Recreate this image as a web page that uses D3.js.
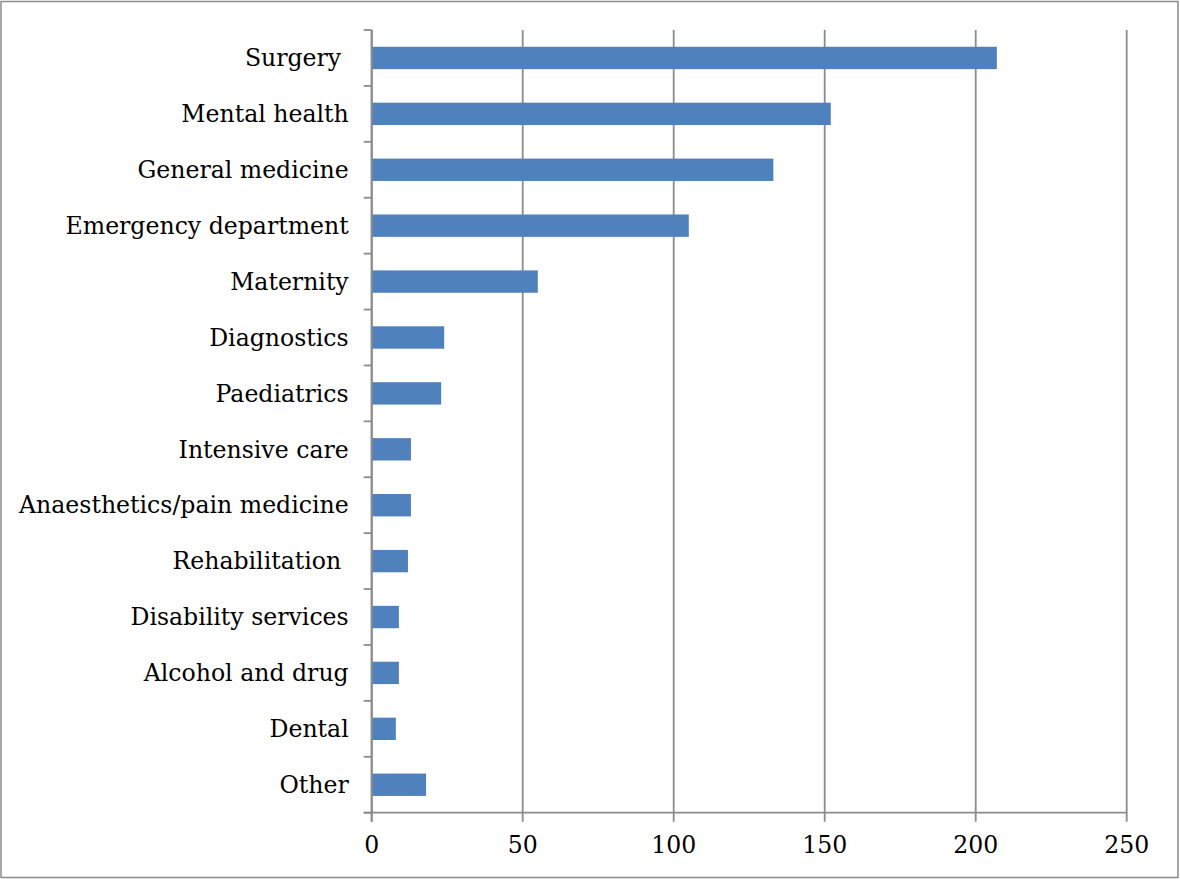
<!DOCTYPE html>
<html>
<head>
<meta charset="utf-8">
<script src="https://cdn.jsdelivr.net/npm/d3@7"></script>
<style>
  html, body { margin: 0; padding: 0; background: #fff; }
  svg { display: block; }
  text { font-family: "DejaVu Serif", "Liberation Serif", serif; fill: #000; }
</style>
</head>
<body>
<svg id="chart" width="1180" height="879"></svg>
<script>
// Specialties (top to bottom) and their counts
const categories = [
  "Surgery ", "Mental health", "General medicine", "Emergency department",
  "Maternity", "Diagnostics", "Paediatrics", "Intensive care",
  "Anaesthetics/pain medicine", "Rehabilitation ", "Disability services",
  "Alcohol and drug", "Dental", "Other"
];
const counts = [207, 152, 133, 105, 55, 24, 23, 13, 13, 12, 9, 9, 8, 18];
const xTicks = [0, 50, 100, 150, 200, 250];

const W = 1180, H = 879;
const margin = { left: 371.7, right: 1180 - 1126.7, top: 30, bottom: 879 - 812.7 };

const svg = d3.select("#chart");

// Outer chart frame
svg.append("rect")
  .attr("x", 1).attr("y", 1.5)
  .attr("width", 1177).attr("height", 876)
  .attr("fill", "none").attr("stroke", "#8c8c8c").attr("stroke-width", 1.5);

const x = d3.scaleLinear().domain([0, 250]).range([margin.left, W - margin.right]);
const y = d3.scaleBand().domain(categories).range([margin.top, H - margin.bottom]).paddingInner(0.6).paddingOuter(0.3);

const gridColor = "#8c8c8c";
const plotTop = margin.top, plotBottom = H - margin.bottom;

// Vertical gridlines (with tick stubs below the axis)
svg.append("g").selectAll("line").data(xTicks).join("line")
  .attr("x1", d => x(d)).attr("x2", d => x(d))
  .attr("y1", plotTop).attr("y2", plotBottom + 9)
  .attr("stroke", gridColor).attr("stroke-width", 1.8);

// Bars
svg.append("g").selectAll("rect").data(categories).join("rect")
  .attr("x", x(0))
  .attr("y", d => y(d))
  .attr("width", (d, i) => x(counts[i]) - x(0))
  .attr("height", y.bandwidth())
  .attr("fill", "#4f81bd");

// Category axis with boundary ticks
const boundaries = d3.range(categories.length + 1).map(i => plotTop + i * (plotBottom - plotTop) / categories.length);
svg.append("g").selectAll("line").data(boundaries).join("line")
  .attr("x1", x(0) - 8).attr("x2", x(0))
  .attr("y1", d => d).attr("y2", d => d)
  .attr("stroke", gridColor).attr("stroke-width", 1.8);
svg.append("line")
  .attr("x1", x(0)).attr("x2", x(0))
  .attr("y1", plotTop).attr("y2", plotBottom + 9)
  .attr("stroke", gridColor).attr("stroke-width", 2);

// Value axis baseline
svg.append("line")
  .attr("x1", x(0) - 8).attr("x2", x(250))
  .attr("y1", plotBottom).attr("y2", plotBottom)
  .attr("stroke", gridColor).attr("stroke-width", 1.8);

// Category labels
svg.append("g").selectAll("text").data(categories).join("text")
  .attr("x", x(0) - 23)
  .attr("y", d => y(d) + y.bandwidth() / 2)
  .attr("dy", "0.35em")
  .attr("text-anchor", "end")
  .style("white-space", "pre")
  .style("font-size", "23.6px")
  .text(d => d);

// Value tick labels
svg.append("g").selectAll("text").data(xTicks).join("text")
  .attr("x", d => x(d))
  .attr("y", 853)
  .attr("text-anchor", "middle")
  .style("font-size", "23.6px")
  .text(d => d);
</script>
</body>
</html>
